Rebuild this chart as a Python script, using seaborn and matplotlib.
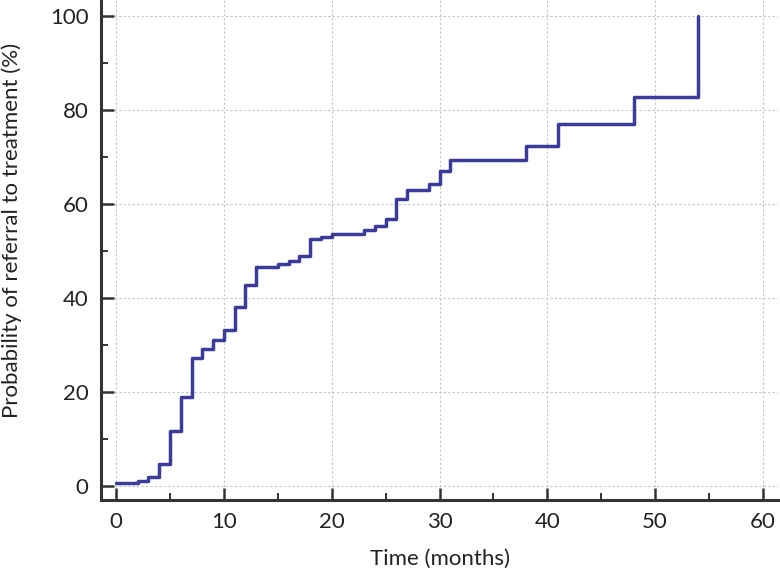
# Curva acumulada de derivación a tratamiento (Kaplan-Meier invertida)

import matplotlib
matplotlib.use("Agg")
import matplotlib.pyplot as plt
from matplotlib.ticker import MultipleLocator
import pandas as pd
import seaborn as sns

# Datos
meses = [0, 2, 3, 4, 5, 6, 7, 8, 9, 10, 11, 12, 13, 15, 16, 17, 18, 19, 20,
         23, 24, 25, 26, 27, 29, 30, 31, 38, 41, 48, 54]
probabilidad = [0.5, 1.1, 1.8, 4.7, 11.6, 18.9, 27.2, 29.1, 31.0, 33.1, 38.0,
                42.6, 46.5, 47.1, 47.9, 48.8, 52.4, 52.9, 53.5, 54.5, 55.2,
                56.7, 61.0, 62.9, 64.1, 66.9, 69.3, 72.2, 76.9, 82.7, 100.0]
xticks = [0, 10, 20, 30, 40, 50, 60]
yticks = [0, 20, 40, 60, 80, 100]

df = pd.DataFrame({"meses": meses, "prob": probabilidad})

sns.set_theme(style="white")
plt.rcParams["font.family"] = ["Lato", "DejaVu Sans"]

fig = plt.figure(figsize=(7.8, 5.74), dpi=100)
ax = fig.add_axes([0.1295, 0.129, 0.868, 0.871])

sns.lineplot(data=df, x="meses", y="prob", ax=ax, drawstyle="steps-post",
             color="#3b3b9a", linewidth=2.5, estimator=None, sort=True)

ax.set_xlim(-1.4, 61.4)
ax.set_ylim(-3.0, 103.3)
ax.set_xticks(xticks)
ax.set_yticks(yticks)
ax.xaxis.set_minor_locator(MultipleLocator(5))
ax.yaxis.set_minor_locator(MultipleLocator(10))

ax.grid(True, which="major", linestyle=(0, (2, 2)), color="#c4c4c4", linewidth=0.8)
ax.set_axisbelow(True)

for lado in ["top", "right"]:
    ax.spines[lado].set_visible(False)
for lado in ["left", "bottom"]:
    ax.spines[lado].set_color("#333333")
    ax.spines[lado].set_linewidth(2.2)

ax.tick_params(which="both", bottom=True, left=True, top=False, right=False)
ax.tick_params(which="major", direction="in", length=9, width=1.8, color="#333333",
               labelsize=16, labelcolor="#222222", pad=9)
ax.tick_params(which="minor", direction="in", length=5, width=1.4, color="#333333")

ax.set_xlabel("Time (months)", fontsize=16, color="#222222", labelpad=12)
ax.set_ylabel("Probability of referral to treatment (%)", fontsize=16,
              color="#222222")
ax.yaxis.set_label_coords(-0.116, 0.54)

fig.savefig("out.png", dpi=100)
plt.close(fig)
